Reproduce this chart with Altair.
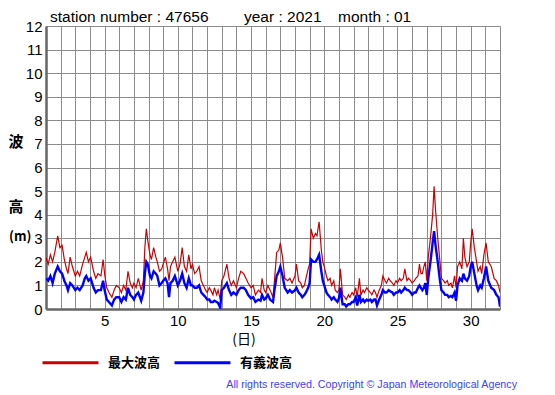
import altair as alt
import pandas as pd

# day of month (fractional), maximum wave height and significant wave height (m)
days = [
    1.0, 1.15, 1.3, 1.45, 1.6, 1.8, 1.95, 2.1, 2.25, 2.4, 2.5, 2.65, 2.8,
    3.0, 3.15, 3.3, 3.5, 3.65, 3.75, 3.9, 4.05, 4.25, 4.4, 4.55, 4.75, 4.9,
    5.0, 5.15, 5.3, 5.5, 5.65, 5.8, 6.0, 6.15, 6.3, 6.45, 6.6, 6.75, 6.9,
    7.0, 7.15, 7.3, 7.5, 7.65, 7.75, 7.85, 7.95, 8.1, 8.2, 8.35, 8.5, 8.6,
    8.75, 8.9, 9.0, 9.15, 9.3, 9.4, 9.5, 9.65, 9.8, 10.0, 10.15, 10.3, 10.45,
    10.6, 10.75, 10.9, 11.0, 11.15, 11.3, 11.45, 11.6, 11.75, 11.9, 12.0,
    12.15, 12.25, 12.4, 12.5, 12.65, 12.75, 12.9, 13.0, 13.15, 13.35, 13.5,
    13.65, 13.8, 14.0, 14.15, 14.3, 14.5, 14.65, 14.8, 15.0, 15.15, 15.3,
    15.5, 15.65, 15.75, 15.9, 16.0, 16.15, 16.3, 16.5, 16.6, 16.75, 16.9,
    17.0, 17.15, 17.3, 17.5, 17.65, 17.8, 18.0, 18.1, 18.25, 18.4, 18.5,
    18.65, 18.75, 18.9, 19.0, 19.1, 19.25, 19.4, 19.5, 19.65, 19.8, 19.9,
    20.0, 20.15, 20.25, 20.4, 20.5, 20.65, 20.75, 20.9, 21.0, 21.1, 21.25,
    21.4, 21.5, 21.65, 21.75, 21.9, 22.0, 22.15, 22.25, 22.4, 22.5, 22.65,
    22.75, 22.9, 23.0, 23.15, 23.25, 23.4, 23.5, 23.6, 23.75, 23.9, 24.0,
    24.15, 24.25, 24.4, 24.5, 24.65, 24.75, 24.9, 25.0, 25.15, 25.25, 25.4,
    25.5, 25.65, 25.75, 25.9, 26.0, 26.15, 26.25, 26.4, 26.5, 26.6, 26.7,
    26.8, 26.9, 27.0, 27.1, 27.25, 27.4, 27.5, 27.6, 27.75, 27.9, 28.0,
    28.15, 28.25, 28.4, 28.5, 28.65, 28.75, 28.9, 29.0, 29.1, 29.25, 29.4,
    29.5, 29.6, 29.75, 29.9, 30.0, 30.1, 30.25, 30.4, 30.5, 30.65, 30.75,
    30.9, 31.05, 31.2, 31.4, 31.6, 31.75, 31.9, 32.0,
]
max_wave = [
    2.2, 1.9, 2.3, 2.0, 2.4, 3.1, 2.6, 2.7, 2.1, 1.7, 1.5, 2.2, 1.8,
    1.4, 1.6, 1.4, 1.9, 2.2, 2.4, 2.0, 2.2, 1.6, 1.3, 1.5, 1.4, 2.1,
    1.5, 0.9, 0.7, 0.5, 0.8, 1.0, 0.9, 0.7, 1.0, 0.8, 1.6, 1.1, 0.9,
    1.1, 0.9, 1.3, 0.8, 1.2, 2.6, 3.4, 2.9, 2.3, 2.1, 2.6, 2.2, 2.0,
    1.6, 1.7, 1.9, 2.2, 1.7, 1.2, 1.8, 2.0, 2.2, 1.6, 1.9, 2.6, 1.8,
    1.6, 2.3, 1.7, 1.9, 1.5, 1.6, 1.8, 1.2, 1.0, 0.8, 0.7,
    0.9, 0.8, 0.6, 0.9, 0.6, 0.8, 0.4, 1.2, 1.4, 1.9, 1.3,
    1.0, 1.2, 0.9, 1.3, 1.6, 1.5, 1.3, 1.1, 0.9, 1.0, 0.6,
    0.8, 0.7, 1.3, 0.8, 0.7, 1.0, 0.8, 0.5, 1.2, 2.4, 2.5,
    2.8, 2.2, 1.3, 1.2, 1.3, 1.1, 1.4, 1.9, 1.2, 1.1, 0.9,
    1.0, 1.3, 1.7, 1.9, 3.4, 3.0, 3.2, 3.1, 3.7, 2.5, 2.0,
    1.8, 1.4, 1.2, 1.3, 1.0, 1.2, 0.8, 0.7, 0.8, 1.7, 0.6,
    0.5, 0.4, 0.6, 0.5, 0.7, 0.6, 0.9, 0.5, 1.3, 0.6, 0.8,
    0.7, 0.9, 0.8, 0.7, 0.6, 0.8, 0.7, 0.5, 0.8, 1.0, 1.4,
    1.2, 1.1, 1.3, 1.2, 1.1, 1.0, 1.2, 1.1, 1.3, 1.2, 1.3,
    1.7, 1.2, 1.3, 1.2, 1.1, 1.2, 1.3, 1.4, 1.9, 1.5, 1.5,
    1.8, 2.0, 1.2, 2.2, 3.0, 4.0, 5.2, 4.2, 3.0, 2.0, 1.3,
    1.2, 1.1, 1.2, 1.0, 1.1, 0.9, 1.4, 0.9, 1.8, 2.0, 1.7,
    3.0, 2.2, 1.8, 2.0, 2.8, 3.4, 2.6, 2.0, 1.6, 1.8, 1.5,
    2.3, 2.8, 2.0, 1.8, 1.3, 1.2, 1.0, 0.7,
]
sig_wave = [
    1.3, 1.2, 1.4, 1.1, 1.5, 1.8, 1.6, 1.5, 1.2, 1.0, 0.8, 1.1, 1.0,
    0.8, 0.9, 0.8, 1.0, 1.3, 1.4, 1.2, 1.3, 0.9, 0.7, 0.8, 0.8, 1.2,
    0.8, 0.4, 0.3, 0.15, 0.4, 0.5, 0.5, 0.3, 0.5, 0.4, 0.9, 0.6, 0.5,
    0.4, 0.6, 0.7, 0.35, 0.7, 1.5, 2.0, 1.9, 1.4, 1.3, 1.6, 1.5, 1.4,
    1.0, 1.1, 1.2, 1.3, 1.1, 0.5, 1.1, 1.2, 1.4, 1.0, 1.2, 1.5, 1.1,
    0.9, 1.3, 1.0, 1.0, 0.9, 0.9, 1.0, 0.7, 0.6, 0.5, 0.4,
    0.4, 0.3, 0.3, 0.35, 0.3, 0.25, 0.05, 0.8, 0.9, 1.1, 0.8,
    0.6, 0.7, 0.6, 0.8, 0.9, 0.9, 0.8, 0.6, 0.45, 0.5, 0.3,
    0.4, 0.35, 0.6, 0.4, 0.45, 0.6, 0.4, 0.3, 0.8, 1.4, 1.6,
    1.8, 1.4, 0.9, 0.7, 0.8, 0.7, 0.8, 0.9, 0.7, 0.6, 0.5,
    0.6, 0.7, 0.9, 1.1, 2.1, 2.0, 2.0, 2.1, 2.3, 1.6, 1.2,
    1.0, 0.7, 0.6, 0.5, 0.4, 0.5, 0.4, 0.3, 0.45, 0.9, 0.2,
    0.2, 0.1, 0.2, 0.2, 0.3, 0.3, 0.5, 0.15, 0.6, 0.3, 0.4,
    0.3, 0.4, 0.35, 0.4, 0.3, 0.4, 0.4, 0.15, 0.4, 0.6, 0.8,
    0.7, 0.7, 0.8, 0.75, 0.7, 0.6, 0.7, 0.7, 0.8, 0.7, 0.8,
    0.9, 0.8, 0.8, 0.7, 0.6, 0.7, 0.7, 0.9, 1.0, 0.9, 0.8,
    0.9, 1.1, 0.6, 1.3, 2.0, 2.8, 3.3, 2.7, 2.0, 1.2, 0.8,
    0.7, 0.6, 0.6, 0.5, 0.55, 0.5, 0.7, 0.35, 1.0, 1.3, 1.2,
    1.5, 1.3, 1.2, 1.4, 1.8, 2.0, 1.5, 1.0, 0.8, 1.0, 0.9,
    1.3, 1.8, 1.2, 0.9, 0.8, 0.6, 0.5, 0.1,
]

SER_MAX = "最大波高"
SER_SIG = "有義波高"
series_names = [SER_MAX, SER_SIG]
series_colors = ["#cc0000", "#0000ff"]
y_ticks = list(range(0, 13))
x_grid = list(range(1, 33))

title_parts = ["station number : 47656", "year : 2021", "month : 01"]
copyright_text = "All rights reserved. Copyright © Japan Meteorological Agency"

df_max = pd.DataFrame({"day": days, "height": max_wave, "series": SER_MAX})
df_sig = pd.DataFrame({"day": days, "height": sig_wave, "series": SER_SIG})

LATIN = "Liberation Sans"
CJK = "Noto Sans CJK JP"

color_scale = alt.Scale(domain=series_names, range=series_colors)

x_enc = alt.X(
    "day:Q",
    scale=alt.Scale(domain=[1, 32], nice=False, zero=False),
    axis=alt.Axis(
        values=x_grid,
        labelExpr="datum.value % 5 == 0 ? datum.value : ''",
        labelOverlap=False,
        labelFlush=False,
        title=None,
        tickSize=0,
        labelPadding=4,
        labelFontSize=15,
        labelFont=LATIN,
        labelColor="#000000",
        grid=True,
        gridColor="#8c8c8c",
        gridWidth=1,
        domainColor="#666666",
        domainWidth=2.5,
    ),
)
y_enc = alt.Y(
    "height:Q",
    scale=alt.Scale(domain=[0, 12], nice=False),
    axis=alt.Axis(
        values=y_ticks,
        title=None,
        tickSize=0,
        labelPadding=4,
        labelFontSize=15,
        labelFont=LATIN,
        labelColor="#000000",
        grid=True,
        gridColor="#8c8c8c",
        gridWidth=1,
        domainColor="#666666",
        domainWidth=2.5,
    ),
)

legend = alt.Legend(
    orient="none",
    legendX=-5,
    legendY=307,
    direction="horizontal",
    title=None,
    symbolType="stroke",
    symbolSize=3136,
    symbolStrokeWidth=3,
    labelFontSize=13,
    labelFont=CJK,
    labelFontWeight="bold",
    labelColor="#000000",
    labelOffset=8,
    columnPadding=7,
    padding=0,
)

red = alt.Chart(df_max).mark_line(strokeWidth=1.2, clip=True).encode(
    x=x_enc, y=y_enc,
    color=alt.Color("series:N", scale=color_scale, legend=legend),
)
blue = alt.Chart(df_sig).mark_line(strokeWidth=2.4, clip=True).encode(
    x=x_enc, y=y_enc,
    color=alt.Color("series:N", scale=color_scale, legend=legend),
)


def label(text, x, y, size, font, align="left", weight="normal",
          color="#000000", baseline="middle"):
    return alt.Chart(pd.DataFrame({"t": [text]})).mark_text(
        align=align, baseline=baseline, fontSize=size, font=font,
        fontWeight=weight, color=color,
    ).encode(text="t:N", x=alt.value(x), y=alt.value(y))


texts = [
    label(title_parts[0], 4, -4, 15.5, LATIN, baseline="alphabetic"),
    label(title_parts[1], 198, -4, 15.5, LATIN, baseline="alphabetic"),
    label(title_parts[2], 292, -4, 15.5, LATIN, baseline="alphabetic"),
    label("波", -30, 116, 15, CJK, align="center", weight="bold"),
    label("高", -30, 181, 15, CJK, align="center", weight="bold"),
    label("(m)", -37, 211, 13, CJK, align="left", weight="bold"),
    label("(日)", 198, 314, 14, CJK, align="center"),
    label(copyright_text, 471, 359, 10.7, LATIN, align="right", color="#4040ff"),
]

chart = alt.layer(red, blue, *texts).properties(
    width=454,
    height=283,
    autosize=alt.AutoSizeParams(type="none"),
    padding={"left": 38, "top": 18, "right": 40, "bottom": 86},
).configure_view(
    stroke="#000000", strokeWidth=1
).configure(background="#ffffff")

chart.save("out.html", embed_options={"renderer": "svg", "actions": False})
